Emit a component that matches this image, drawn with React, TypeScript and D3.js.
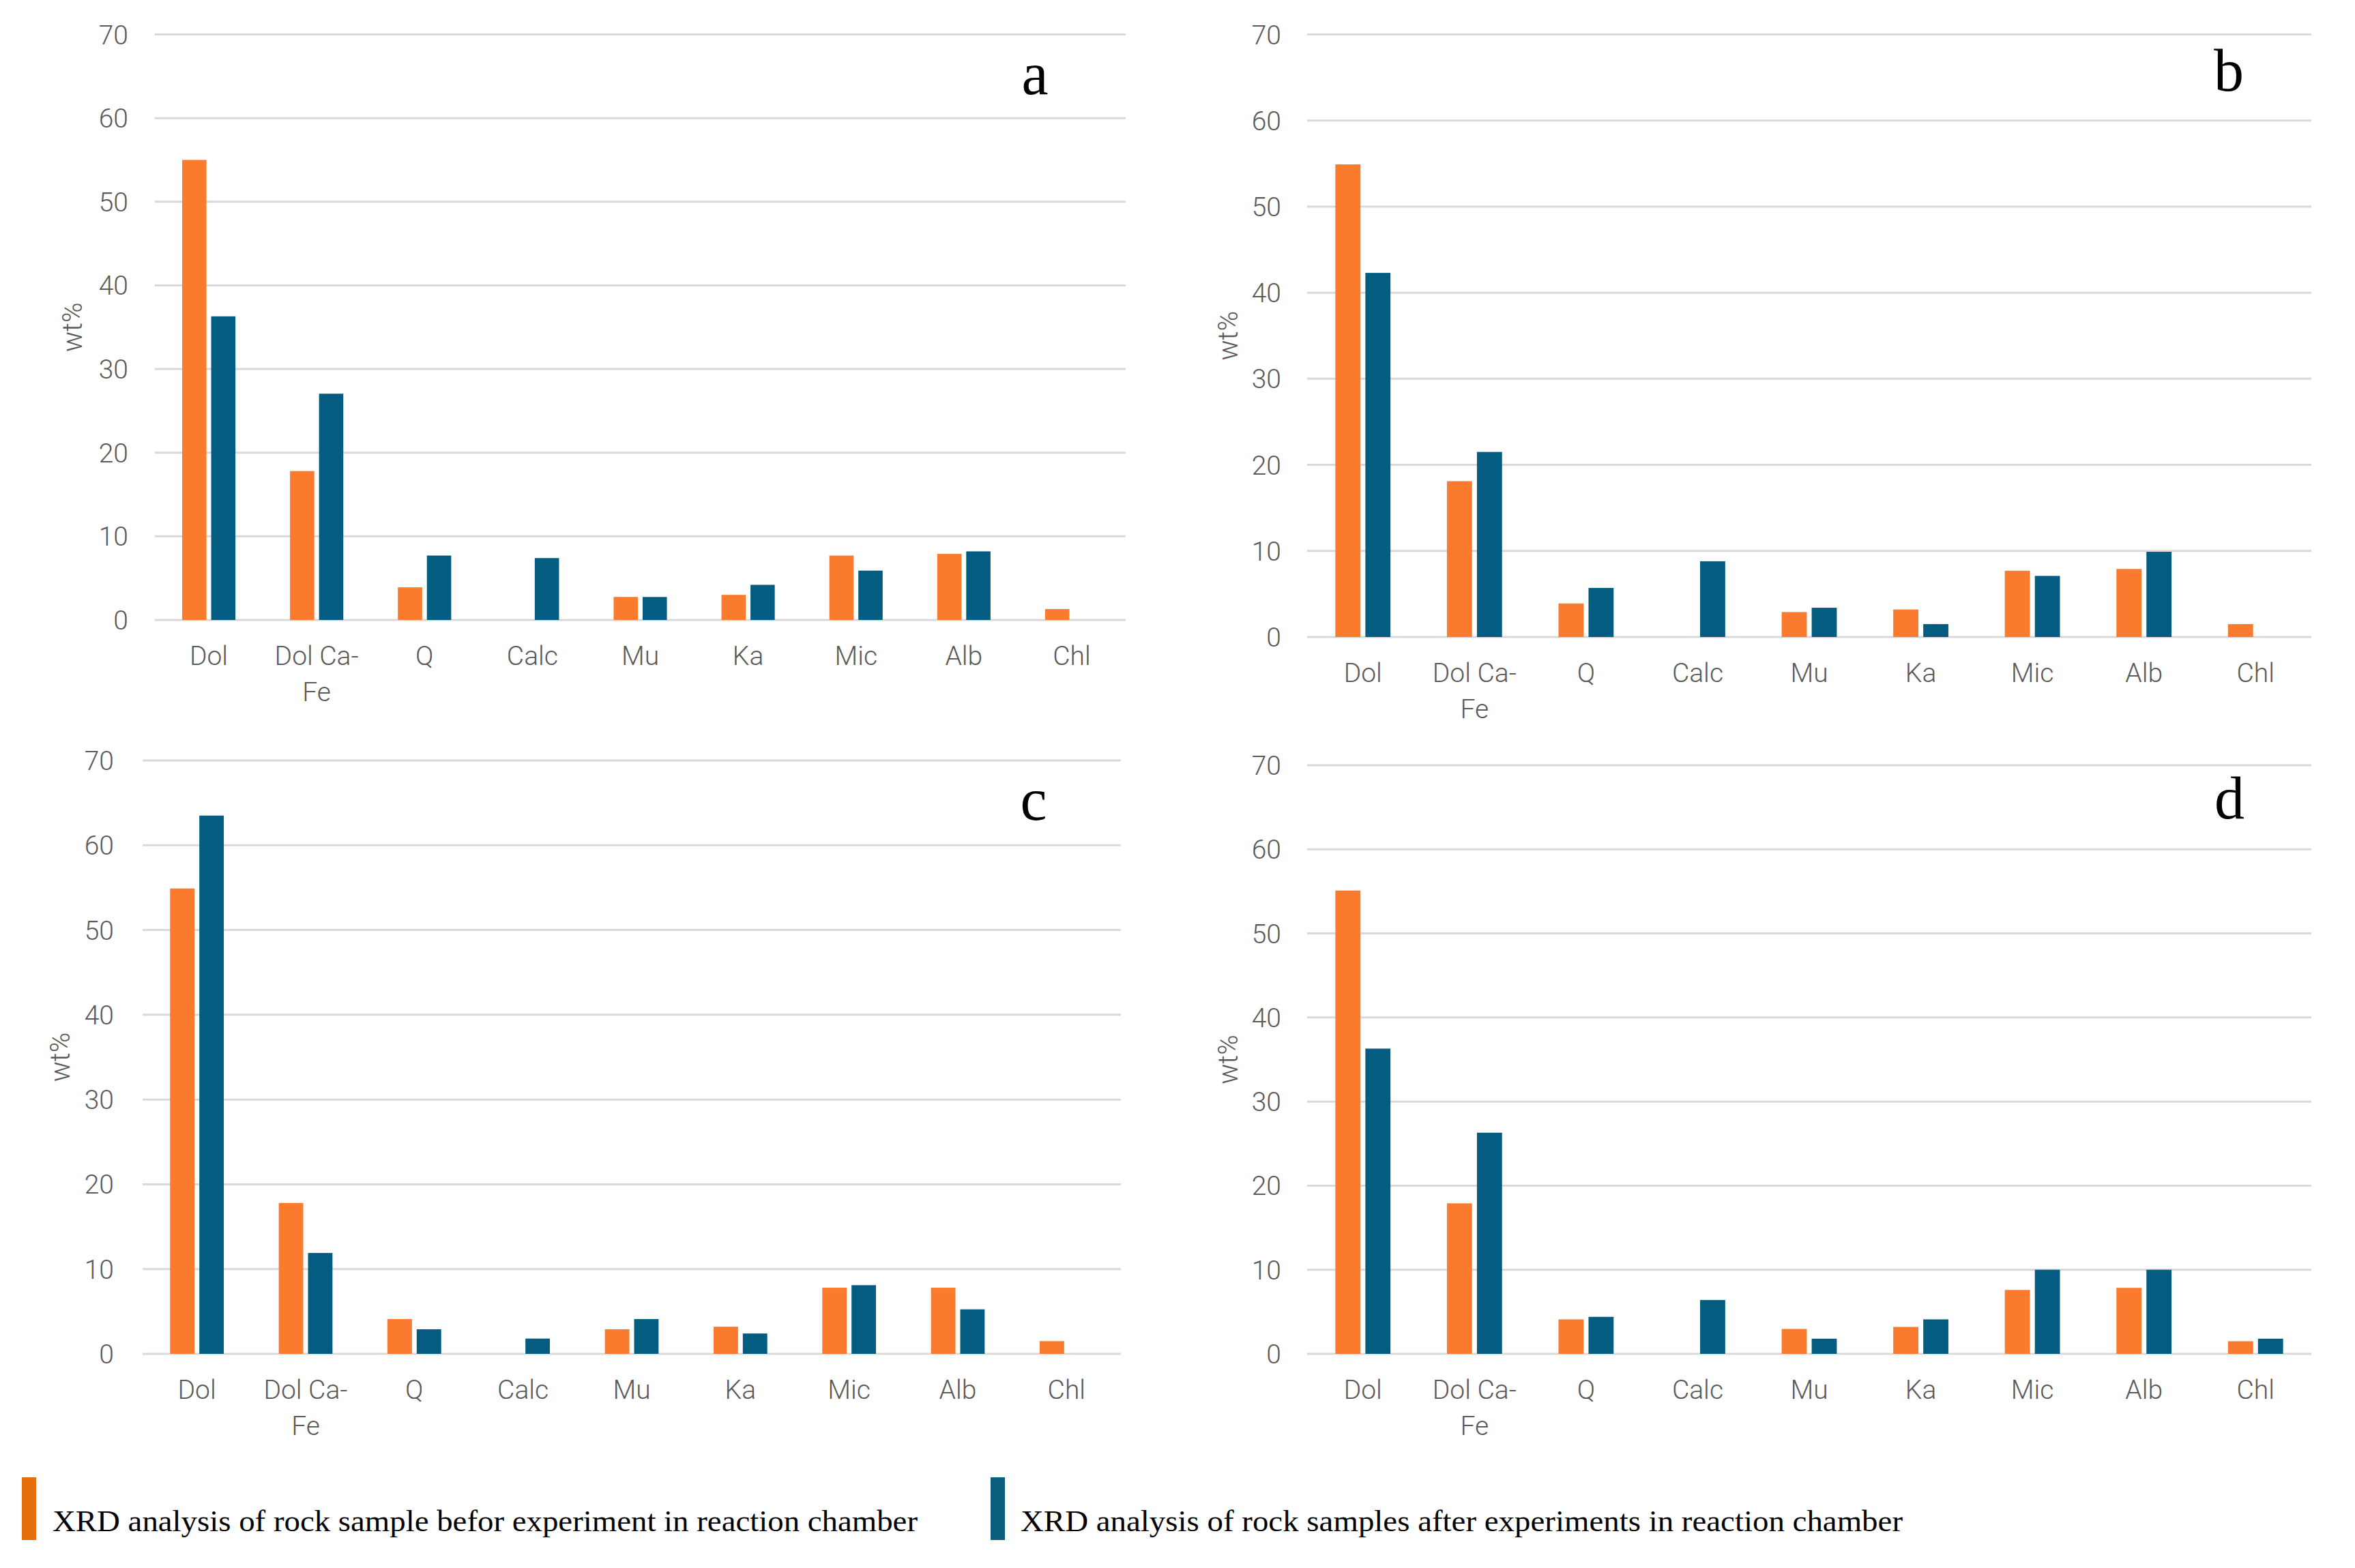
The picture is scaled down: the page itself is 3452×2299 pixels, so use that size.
import React from "react";
import * as d3 from "d3";

const categories = ["Dol", "Dol Ca-Fe", "Q", "Calc", "Mu", "Ka", "Mic", "Alb", "Chl"];
const categoryLines: Record<string, string[]> = {
  "Dol Ca-Fe": ["Dol Ca-", "Fe"],
};
const yTicks = [0, 10, 20, 30, 40, 50, 60, 70];
const seriesKeys = ["before", "after"];

const beforeA = [55.0, 17.8, 3.9, 0, 2.75, 3.0, 7.7, 7.9, 1.3];
const afterA = [36.3, 27.05, 7.7, 7.4, 2.75, 4.2, 5.9, 8.2, 0];
const beforeB = [54.9, 18.1, 3.9, 0, 2.9, 3.2, 7.7, 7.9, 1.5];
const afterB = [42.3, 21.5, 5.7, 8.8, 3.4, 1.5, 7.1, 9.9, 0];
const beforeC = [54.9, 17.8, 4.1, 0, 2.9, 3.2, 7.8, 7.8, 1.5];
const afterC = [63.5, 11.9, 2.9, 1.8, 4.1, 2.4, 8.1, 5.25, 0];
const beforeD = [55.1, 17.9, 4.1, 0, 2.96, 3.2, 7.6, 7.85, 1.5];
const afterD = [36.3, 26.3, 4.4, 6.4, 1.8, 4.1, 10.0, 10.0, 1.8];

const panelLetters = ["a", "b", "c", "d"];
const legendLabels = [
  "XRD analysis of rock sample befor experiment in reaction chamber",
  "XRD analysis of rock samples after experiments in reaction chamber",
];

const ORANGE = "#FA7A2E";
const BLUE = "#045D80";
const LEG_ORANGE = "#E66D0C";
const LEG_BLUE = "#0B5E7E";
const GRID = "#D9D9D9";
const TEXT = "#595959";
const SANS = "Roboto, 'Liberation Sans', sans-serif";
const SERIF = "'Liberation Serif', 'DejaVu Serif', serif";

const panels = [
  { before: beforeA, after: afterA, left: 227, right: 1650, top: 50.5, bottom: 909, tickX: 188, wtX: 106, letterX: 1517, letterY: 138 },
  { before: beforeB, after: afterB, left: 1916, right: 3388, top: 50.5, bottom: 934, tickX: 1878, wtX: 1800, letterX: 3267, letterY: 133 },
  { before: beforeC, after: afterC, left: 209, right: 1643, top: 1115, bottom: 1985, tickX: 167, wtX: 88, letterX: 1515, letterY: 1202 },
  { before: beforeD, after: afterD, left: 1916, right: 3388, top: 1122, bottom: 1985, tickX: 1878, wtX: 1800, letterX: 3268, letterY: 1200 },
];

function Panel({ p, letter }: { p: (typeof panels)[number]; letter: string }) {
  const y = d3.scaleLinear().domain([0, 70]).range([p.bottom, p.top]);
  const x0 = d3.scaleBand<string>().domain(categories).range([p.left, p.right]).padding(0);
  const band = x0.bandwidth();
  const pair = band * 0.494;
  const x1 = d3
    .scaleBand<string>()
    .domain(seriesKeys)
    .range([(band - pair) / 2, (band + pair) / 2])
    .paddingInner(0.163)
    .paddingOuter(0);
  const colors = d3.scaleOrdinal<string, string>().domain(seriesKeys).range([ORANGE, BLUE]);
  const series: Record<string, number[]> = { before: p.before, after: p.after };

  return (
    <g>
      {yTicks.map((t) => (
        <g key={t}>
          <line x1={p.left} x2={p.right} y1={y(t)} y2={y(t)} stroke={GRID} strokeWidth={3} />
          <text
            x={p.tickX}
            y={y(t)}
            dy="0.36em"
            textAnchor="end"
            fontFamily={SANS}
            fontWeight={300}
            fontSize={39}
            fill={TEXT}
          >
            {t}
          </text>
        </g>
      ))}
      {categories.map((c, i) => (
        <g key={c} transform={`translate(${x0(c)},0)`}>
          {seriesKeys.map((k) => {
            const v = series[k][i];
            if (!v) return null;
            return (
              <rect
                key={k}
                x={x1(k)}
                width={x1.bandwidth()}
                y={y(v)}
                height={y(0) - y(v)}
                fill={colors(k)}
              />
            );
          })}
          {(categoryLines[c] || [c]).map((line, li) => (
            <text
              key={li}
              x={band / 2}
              y={p.bottom + 66 + li * 53}
              textAnchor="middle"
              fontFamily={SANS}
              fontWeight={300}
              fontSize={39}
              fill={TEXT}
            >
              {line}
            </text>
          ))}
        </g>
      ))}
      <text
        transform={`translate(${p.wtX},${(p.top + p.bottom) / 2}) rotate(-90)`}
        textAnchor="middle"
        dy="0.35em"
        fontFamily={SANS}
        fontWeight={300}
        fontSize={40}
        fill={TEXT}
      >
        wt%
      </text>
      <text x={p.letterX} y={p.letterY} textAnchor="middle" fontFamily={SERIF} fontSize={88} fill="#000">
        {letter}
      </text>
    </g>
  );
}

export default function App() {
  const legendItems = [
    { label: legendLabels[0], color: LEG_ORANGE, rx: 32, tx: 77, tw: 1268 },
    { label: legendLabels[1], color: LEG_BLUE, rx: 1452, tx: 1496, tw: 1293 },
  ];
  return (
    <svg
      width={3452}
      height={2299}
      viewBox="0 0 3452 2299"
      style={{ position: "absolute", left: 0, top: 0, background: "#fff" }}
    >
      <rect x={0} y={0} width={3452} height={2299} fill="#fff" />
      {panels.map((p, i) => (
        <Panel key={i} p={p} letter={panelLetters[i]} />
      ))}
      {legendItems.map((l, i) => (
        <g key={i}>
          <rect x={l.rx} y={2166} width={21} height={92} fill={l.color} />
          <text
            x={l.tx}
            y={2245}
            fontFamily={SERIF}
            fontSize={44}
            fill="#000"
            textLength={l.tw}
            lengthAdjust="spacingAndGlyphs"
          >
            {l.label}
          </text>
        </g>
      ))}
    </svg>
  );
}
